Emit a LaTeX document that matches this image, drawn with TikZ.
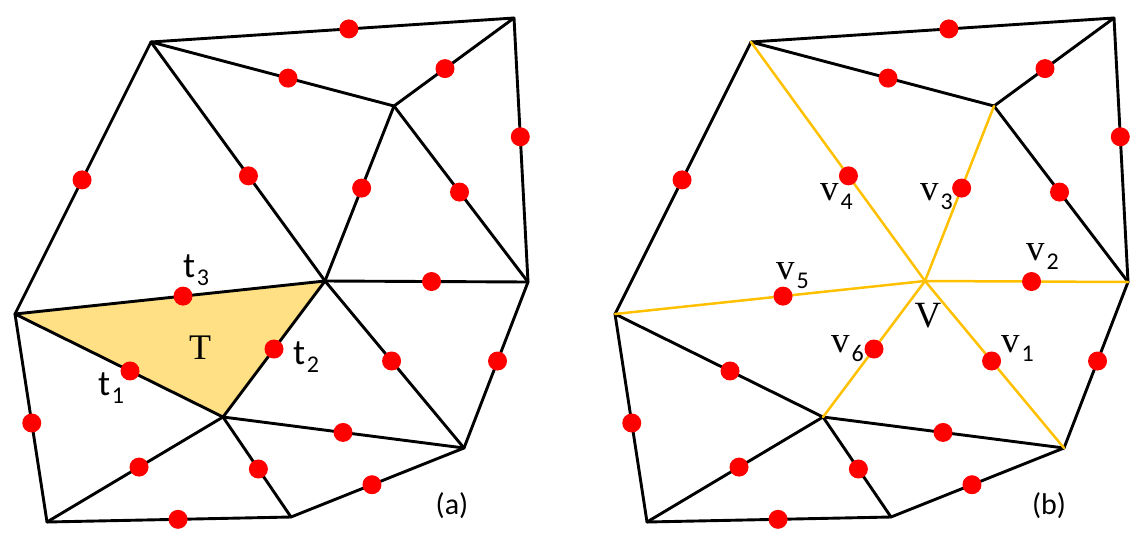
\documentclass[tikz,border=0pt]{standalone}
\usepackage{fontspec}
\newfontfamily\carl{Carlito}
\newfontfamily\tms{Liberation Serif}
\definecolor{gold}{HTML}{FFC000}
\definecolor{tfill}{HTML}{FFE085}
\definecolor{dotred}{HTML}{FF0000}
\newcommand{\tlab}[1]{{\carl\fontsize{36}{36}\selectfont t\hspace{1.5pt}\raisebox{-8pt}{\fontsize{24}{24}\selectfont #1}}}
\newcommand{\vlab}[1]{{\tms\fontsize{37}{37}\selectfont v}\hspace{2pt}\raisebox{-9pt}{\carl\fontsize{24}{24}\selectfont #1}}
\newcommand{\meshpic}[2]{%
  \coordinate (#1A) at (151,42);
  \coordinate (#1B) at (514,18);
  \coordinate (#1C) at (394,106);
  \coordinate (#1D) at (528,282);
  \coordinate (#1E) at (325,281);
  \coordinate (#1F) at (15,314);
  \coordinate (#1G) at (223,417);
  \coordinate (#1H) at (464,448);
  \coordinate (#1I) at (47,522);
  \coordinate (#1J) at (291,517);
  \foreach \p/\q in {A/B, A/C, C/B, B/D, A/F, C/D, F/G, D/H, F/I, G/H, G/I, G/J, H/J, I/J}
    {\draw[edge] (#1\p) -- (#1\q);}
  \foreach \p/\q in {A/E, C/E, E/D, F/E, G/E, E/H}
    {\draw[#2] (#1\p) -- (#1\q);}
  \foreach \p/\q/\t in {A/B/0.545, A/C/0.564, C/B/0.425, B/D/0.45, A/F/0.507, A/E/0.56,
      C/E/0.469, C/D/0.489, E/D/0.525, F/E/0.542, F/G/0.553, G/E/0.5, E/H/0.479,
      D/H/0.476, F/I/0.524, G/H/0.498, G/I/0.477, G/J/0.52, H/J/0.532, I/J/0.537}
    {\path (#1\p) -- (#1\q) node[dot,pos=\t] (#1\p\q) {};}
}
\begin{document}
\begin{tikzpicture}[x=1pt,y=-1pt,
  edge/.style={line width=2.9pt, line cap=round, draw=black},
  yedge/.style={line width=2.5pt, line cap=round, draw=gold},
  dot/.style={circle, fill=dotred, inner sep=0pt, minimum size=19pt},
  lab/.style={inner sep=0pt, anchor=base west},
  captext/.style={inner sep=0pt, anchor=base, font=\carl\fontsize{30}{30}\selectfont}]
\useasboundingbox (0,0) rectangle (1137,541);
% (a)
\fill[tfill] (15,314) -- (325,281) -- (223,417) -- cycle;
\meshpic{L}{edge}
\node[inner sep=0pt, anchor=base, font=\tms\fontsize{36}{36}\selectfont] (Tlab) at (200,359) {T};
\node[lab] (t1) at (98,395) {\tlab{1}};
\node[lab] (t2) at (293,364) {\tlab{2}};
\node[lab] (t3) at (183,277) {\tlab{3}};
\node[captext] (capa) at (452,514) {(a)};
% (b)
\begin{scope}[xshift=600pt]
\meshpic{R}{yedge}
\end{scope}
\node[inner sep=0pt, anchor=base, font=\tms\fontsize{37}{37}\selectfont] (Vlab) at (928,327) {V};
\node[lab] (v1) at (1001,352) {\vlab{1}};
\node[lab] (v2) at (1026,260) {\vlab{2}};
\node[lab] (v3) at (920,200) {\vlab{3}};
\node[lab] (v4) at (820,200) {\vlab{4}};
\node[lab] (v5) at (776,279) {\vlab{5}};
\node[lab] (v6) at (831,352) {\vlab{6}};
\node[captext] (capb) at (1049,514) {(b)};
\end{tikzpicture}
\end{document}
